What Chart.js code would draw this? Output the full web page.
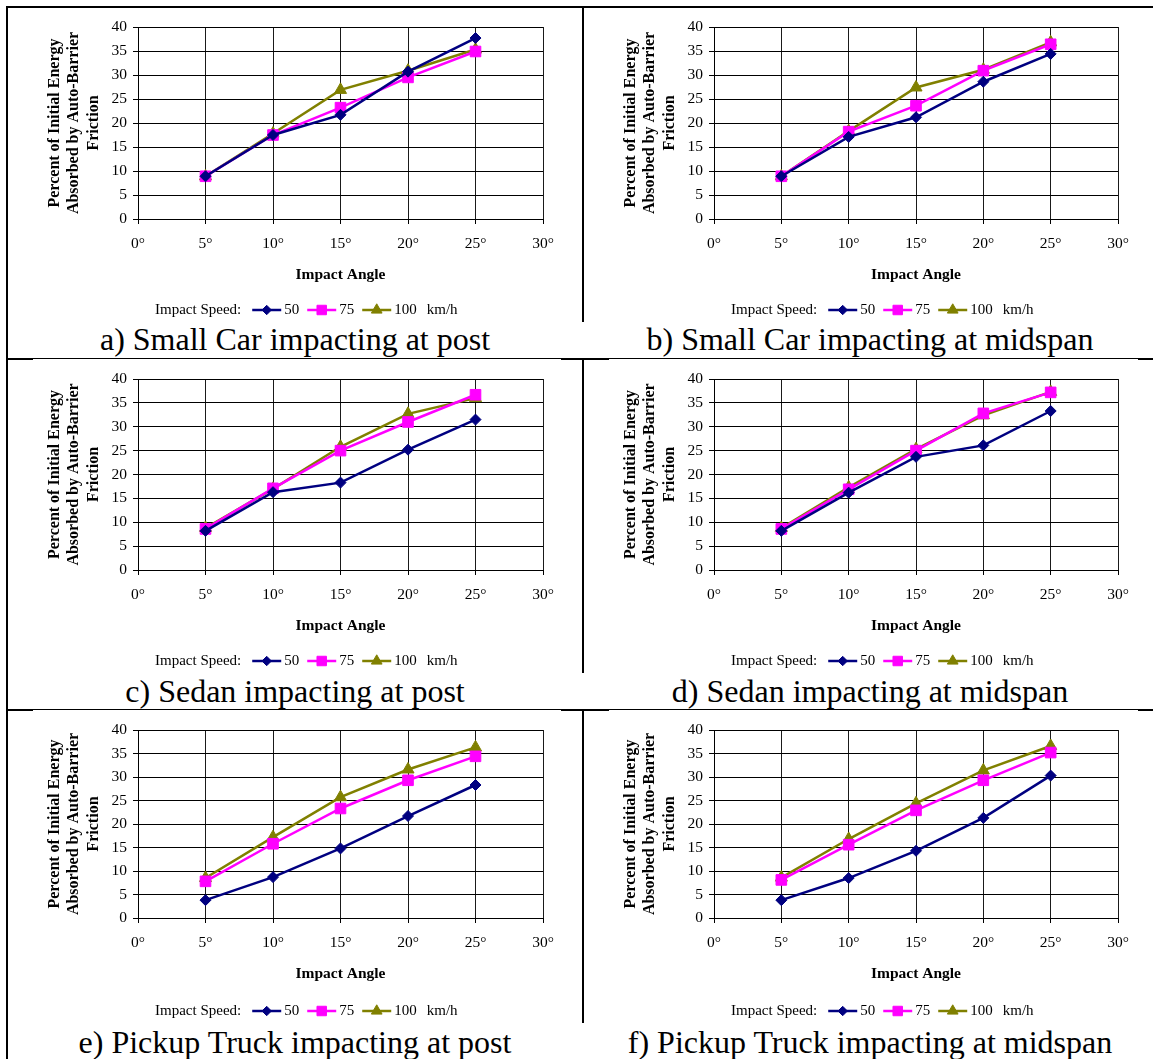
<!DOCTYPE html>
<html>
<head>
<meta charset="utf-8">
<script src="https://cdn.jsdelivr.net/npm/chart.js@4.4.1/dist/chart.umd.min.js"></script>
<style>
  body { margin: 0; background: #fff; width: 1153px; height: 1059px; position: relative; overflow: hidden; }
  canvas { position: absolute; }
  .ln { position: absolute; background: #000; }
  .cap { position: absolute; width: 560px; text-align: center; font: 32px "Liberation Serif", "Times New Roman", serif; line-height: 32px; color: #000; white-space: nowrap; }
</style>
</head>
<body>
<script>
// impact angles (degrees) and speeds (km/h)
const angles = [5, 10, 15, 20, 25];
const speeds = ["50", "75", "100"];
const xTicks = [0, 5, 10, 15, 20, 25, 30];

// percent of initial energy absorbed by auto-barrier friction
const smallCarPost50 = [8.9, 17.5, 21.7, 30.7, 37.7];
const smallCarPost75 = [8.9, 17.5, 23.2, 29.5, 34.9];
const smallCarPost100 = [8.9, 17.8, 26.9, 30.9, 35.3];

const smallCarMid50 = [8.9, 17.1, 21.2, 28.6, 34.4];
const smallCarMid75 = [8.9, 18.2, 23.6, 30.9, 36.4];
const smallCarMid100 = [8.9, 18.3, 27.4, 31.1, 36.8];

const sedanPost50 = [8.2, 16.3, 18.3, 25.2, 31.5];
const sedanPost75 = [8.6, 17.1, 25.0, 31.0, 36.7];
const sedanPost100 = [8.8, 17.0, 25.8, 32.7, 36.0];

const sedanMid50 = [8.2, 16.2, 23.7, 26.1, 33.3];
const sedanMid75 = [8.6, 16.9, 25.0, 32.8, 37.2];
const sedanMid100 = [8.8, 17.3, 25.3, 32.4, 37.3];

const truckPost50 = [3.8, 8.7, 14.8, 21.7, 28.3];
const truckPost75 = [7.8, 15.8, 23.3, 29.3, 34.4];
const truckPost100 = [8.5, 17.2, 25.7, 31.6, 36.3];

const truckMid50 = [3.8, 8.5, 14.3, 21.3, 30.3];
const truckMid75 = [8.1, 15.6, 22.9, 29.3, 35.2];
const truckMid100 = [8.6, 16.8, 24.4, 31.4, 36.6];

const captions = [
    "a) Small Car impacting at post",
    "b) Small Car impacting at midspan",
    "c) Sedan impacting at post",
    "d) Sedan impacting at midspan",
    "e) Pickup Truck impacting at post",
    "f) Pickup Truck impacting at midspan"
];

const panelSeries = [
    [smallCarPost50, smallCarPost75, smallCarPost100],
    [smallCarMid50, smallCarMid75, smallCarMid100],
    [sedanPost50, sedanPost75, sedanPost100],
    [sedanMid50, sedanMid75, sedanMid100],
    [truckPost50, truckPost75, truckPost100],
    [truckMid50, truckMid75, truckMid100]
];

// styles and layout
const serif = '"Liberation Serif", "Times New Roman", serif';
const colors = ["#000080", "#ff00ff", "#808000"];
const markers = ["rectRot", "rect", "triangle"];
const markerSize = [5.5, 7.5, 7];

const colLeft = [8, 584];
const colWidth = [574, 569];
const colRightPad = [39, 35];
const capLeft = [15, 590];
const rowTop = [7, 359, 710];
const rowBottomPad = [32, 33, 36];
const rowLegendOff = [91, 91, 93];
const capTop = [323, 675, 1026];
const canvasH = 314;

// frame lines
function line(x, y, w, h) {
    const d = document.createElement("div");
    d.className = "ln";
    d.style.left = x + "px";
    d.style.top = y + "px";
    d.style.width = w + "px";
    d.style.height = h + "px";
    document.body.appendChild(d);
}
line(6, 6, 1147, 2);
line(6, 6, 2, 1053);
[358, 709].forEach(y => {
    line(6, y, 1147, 1);
    line(6, y, 27, 2);
    line(561, y, 48, 2);
    line(1138, y, 15, 2);
});
[[6, 322], [358, 673], [709, 1023]].forEach(s => line(582, s[0], 2, s[1] - s[0]));

// legend drawn like the spreadsheet one: line with marker in the middle
const speedLegend = {
    id: "speedLegend",
    afterDraw(chart, args, opts) {
        const ctx = chart.ctx;
        const y = chart.chartArea.bottom + opts.offset;
        let x = chart.chartArea.left + 17;
        ctx.save();
        ctx.font = "15px " + serif;
        ctx.textBaseline = "middle";
        ctx.textAlign = "left";
        ctx.fillStyle = "#000";
        ctx.fillText("Impact Speed:", x, y);
        x += ctx.measureText("Impact Speed:").width + 11;
        chart.data.datasets.forEach(ds => {
            ctx.strokeStyle = ds.borderColor;
            ctx.lineWidth = 2.5;
            ctx.beginPath();
            ctx.moveTo(x, y);
            ctx.lineTo(x + 29, y);
            ctx.stroke();
            ctx.fillStyle = ds.borderColor;
            ctx.lineWidth = 1;
            Chart.helpers.drawPoint(ctx, { pointStyle: ds.pointStyle, radius: ds.pointRadius - 0.8, borderWidth: 1, rotation: 0 }, x + 14.5, y);
            x += 32;
            ctx.fillStyle = "#000";
            ctx.fillText(ds.label, x, y);
            x += ctx.measureText(ds.label).width + 8;
        });
        ctx.fillText("km/h", x + 2, y);
        ctx.restore();
    }
};

panelSeries.forEach((series, i) => {
    const col = i % 2;
    const row = Math.floor(i / 2);

    const canvas = document.createElement("canvas");
    canvas.width = colWidth[col];
    canvas.height = canvasH;
    canvas.style.left = colLeft[col] + "px";
    canvas.style.top = rowTop[row] + "px";
    canvas.style.width = colWidth[col] + "px";
    canvas.style.height = canvasH + "px";
    document.body.appendChild(canvas);

    const cap = document.createElement("div");
    cap.className = "cap";
    cap.style.left = capLeft[col] + "px";
    cap.style.top = capTop[row] + "px";
    cap.textContent = captions[i];
    document.body.appendChild(cap);

    new Chart(canvas.getContext("2d"), {
        type: "line",
        data: {
            datasets: series.map((vals, k) => ({
                label: speeds[k],
                data: angles.map((a, j) => ({ x: a, y: vals[j] })),
                borderColor: colors[k],
                backgroundColor: colors[k],
                pointBackgroundColor: colors[k],
                pointBorderColor: colors[k],
                pointStyle: markers[k],
                pointRadius: markerSize[k],
                pointBorderWidth: 1,
                borderWidth: 2.5,
                tension: 0
            }))
        },
        options: {
            responsive: false,
            animation: false,
            devicePixelRatio: 1,
            layout: { padding: { left: 0, top: 20, right: colRightPad[col], bottom: rowBottomPad[row] } },
            plugins: {
                legend: { display: false },
                tooltip: { enabled: false },
                speedLegend: { offset: rowLegendOff[row] }
            },
            scales: {
                x: {
                    type: "linear",
                    min: 0,
                    max: 30,
                    afterBuildTicks: axis => { axis.ticks = xTicks.map(v => ({ value: v })); },
                    afterFit: axis => { axis.height = 70; },
                    ticks: {
                        color: "#000",
                        font: { family: serif, size: 15.5 },
                        padding: 11,
                        maxRotation: 0,
                        callback: v => v + "°"
                    },
                    grid: { color: "#1a1a1a", lineWidth: 1, tickLength: 5, tickColor: "#000" },
                    border: { color: "#000", width: 1 },
                    title: {
                        display: true,
                        text: "Impact Angle",
                        color: "#000",
                        font: { family: serif, size: 15.5, weight: "bold" },
                        padding: { top: 0, bottom: 5 }
                    }
                },
                y: {
                    min: 0,
                    max: 40,
                    afterFit: axis => { axis.width = 130; },
                    ticks: {
                        stepSize: 5,
                        color: "#000",
                        font: { family: serif, size: 15.5 },
                        padding: 6
                    },
                    grid: { color: "#000", lineWidth: 1, tickLength: 5, tickColor: "#000" },
                    border: { color: "#000", width: 1 },
                    title: {
                        display: true,
                        text: ["Percent of Initial Energy", "Absorbed by Auto-Barrier", "Friction"],
                        color: "#000",
                        font: { family: serif, size: 16, weight: "bold", lineHeight: "19.5px" },
                        padding: { top: 37, bottom: 0 }
                    }
                }
            }
        },
        plugins: [speedLegend]
    });
});
</script>
</body>
</html>
